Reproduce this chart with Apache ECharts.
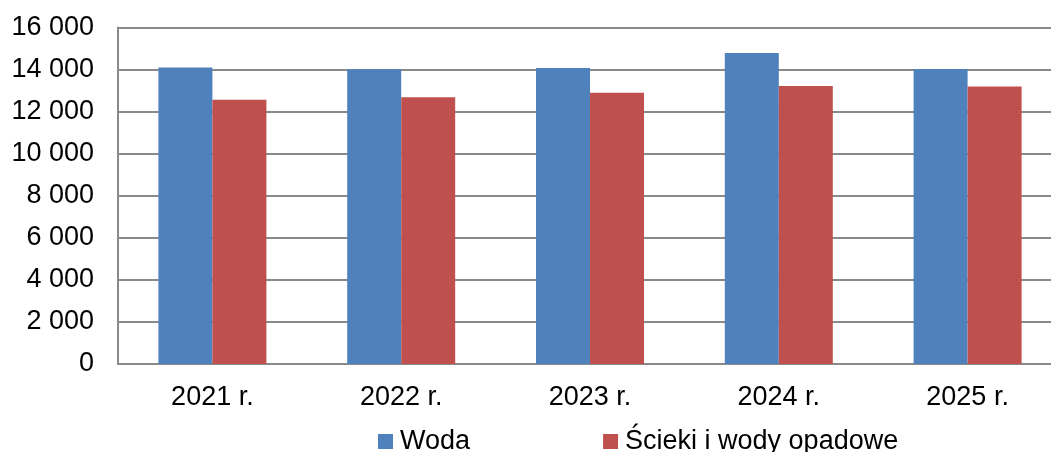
<!DOCTYPE html>
<html>
<head>
<meta charset="utf-8">
<script src="https://cdn.jsdelivr.net/npm/echarts@6/dist/echarts.min.js"></script>
<style>
  html, body { margin: 0; padding: 0; background: #fff; overflow: hidden; }
  /* wykres szerszy niż okno – ostatnia kategoria jest ucięta po prawej */
  #chart { width: 1062px; height: 452px; }
</style>
</head>
<body>
<div id="chart"></div>
<script>
// dane
const years = ['2021 r.', '2022 r.', '2023 r.', '2024 r.', '2025 r.']
const woda = [14100, 14010, 14070, 14790, 14030]
const scieki = [12570, 12680, 12900, 13220, 13190]
const seriesNames = ['Woda', 'Ścieki i wody opadowe']

const chart = echarts.init(document.getElementById('chart'))
const font = '"Liberation Sans", Arial, sans-serif'
const grey = '#8a8a8a'

const option = {
  animation: false,
  textStyle: { fontFamily: font },
  grid: { left: 118, right: 0, top: 27.5, bottom: 88 },
  legend: {
    data: seriesNames,
    left: 378,
    top: 428,
    padding: 0,
    itemWidth: 15,
    itemHeight: 15,
    itemGap: 133,
    icon: 'rect',
    textStyle: { fontFamily: font, fontSize: 27, color: '#000', padding: [0, 0, 0, 2] }
  },
  xAxis: {
    type: 'category',
    data: years,
    axisTick: { show: false },
    axisLine: { lineStyle: { color: grey, width: 2 } },
    axisLabel: { color: '#000', fontSize: 27, fontFamily: font, margin: 20 }
  },
  yAxis: {
    type: 'value',
    min: 0,
    max: 16000,
    interval: 2000,
    axisLine: { show: true, lineStyle: { color: grey, width: 2 } },
    axisTick: { show: false },
    splitLine: { lineStyle: { color: grey, width: 2 } },
    axisLabel: {
      color: '#000',
      fontSize: 27,
      fontFamily: font,
      margin: 24,
      formatter: v => String(v).replace(/\B(?=(\d{3})+(?!\d))/g, ' ')
    }
  },
  series: [
    {
      name: seriesNames[0],
      type: 'bar',
      data: woda,
      barWidth: 54,
      barGap: '0%',
      itemStyle: { color: '#4f81bd' }
    },
    {
      name: seriesNames[1],
      type: 'bar',
      data: scieki,
      barWidth: 54,
      itemStyle: { color: '#c0504d' }
    }
  ]
}
chart.setOption(option)
</script>
</body>
</html>
